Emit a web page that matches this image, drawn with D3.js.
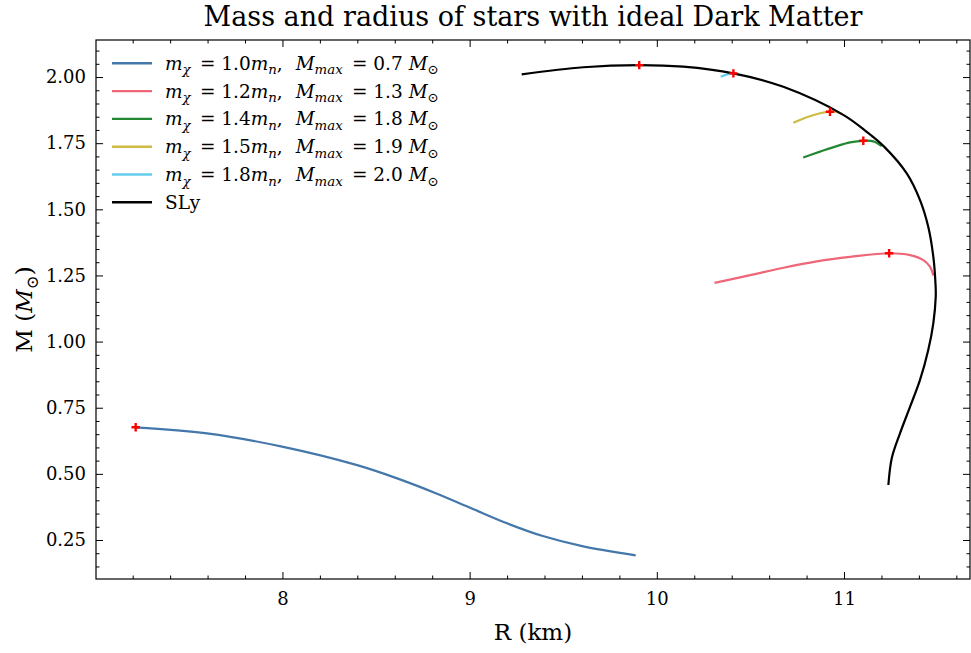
<!DOCTYPE html>
<html>
<head>
<meta charset="utf-8">
<script src="https://cdn.jsdelivr.net/npm/d3@7/dist/d3.min.js"></script>
<style>
  html, body { margin: 0; padding: 0; background: #fff; }
  svg { display: block; }
  text { font-family: "DejaVu Serif", "Liberation Serif", serif; fill: #000; white-space: pre; }
</style>
</head>
<body>
<svg id="chart" width="971" height="653"></svg>
<script>
// ---------------- data ----------------
const darkMassLabels = ["1.0", "1.2", "1.4", "1.5", "1.8"];
const maxMassLabels  = ["0.7", "1.3", "1.8", "1.9", "2.0"];
const seriesColors   = ["#4477AA", "#EE6677", "#228833", "#CCBB44", "#66CCEE"];

// [R (km), M (Msun)]
const dm10 = [[7.216,0.676],[7.597,0.653],[7.998,0.603],[8.399,0.533],[8.609,0.484],[8.819,0.427],
              [9.009,0.370],[9.200,0.313],[9.391,0.265],[9.601,0.227],[9.887,0.192]];
const dm12 = [[10.308,1.222],[10.499,1.251],[10.677,1.279],[10.855,1.303],[11.033,1.320],[11.241,1.334],
              [11.353,1.327],[11.424,1.308],[11.459,1.283],[11.477,1.250]];
const dm14 = [[10.782,1.696],[10.872,1.718],[10.961,1.739],[11.032,1.753],[11.103,1.759],[11.157,1.757],[11.202,1.739]];
const dm15 = [[10.729,1.827],[10.801,1.848],[10.872,1.863],[10.925,1.869],[10.961,1.868],[10.988,1.860]];
const dm18 = [[10.341,2.001],[10.375,2.010],[10.409,2.016]];
const sly  = [[11.237,0.458],[11.255,0.559],[11.299,0.653],[11.353,0.754],[11.406,0.855],[11.450,0.968],
              [11.477,1.069],[11.490,1.170],[11.489,1.214],[11.477,1.321],[11.450,1.434],[11.406,1.535],
              [11.335,1.636],[11.214,1.737],[11.121,1.793],[10.996,1.857],[10.676,1.963],[10.409,2.014],
              [10.141,2.039],[9.906,2.045],[9.607,2.037],[9.278,2.010]];
const dmSeries = [dm10, dm12, dm14, dm15, dm18];

// maximum-mass markers
const maxPoints = [[7.216,0.676],[11.241,1.334],[11.103,1.759],[10.925,1.869],[10.409,2.014],[9.906,2.045]];

const xTicks = [8, 9, 10, 11];
const yTicks = [0.25, 0.50, 0.75, 1.00, 1.25, 1.50, 1.75, 2.00];

// ---------------- layout ----------------
const svg = d3.select("#chart");
const mLeft = 96, mRight = 970, mTop = 40, mBottom = 579;

const x = d3.scaleLinear().domain([7.004, 11.673]).range([mLeft, mRight]);
const y = d3.scaleLinear().domain([0.1026, 2.140]).range([mBottom, mTop]);

const xMinor = d3.range(7.2, 11.67, 0.2).filter(v => Math.abs(v - Math.round(v)) > 1e-6);
const yMinor = d3.range(0.15, 2.14, 0.05).filter(v => Math.abs(v*4 - Math.round(v*4)) > 1e-6);

const tickFont = 18;
function styleAxis(g) {
  g.select(".domain").remove();
  g.selectAll(".tick line").attr("stroke", "#000").attr("stroke-width", 1);
  g.selectAll("text").attr("font-size", tickFont).attr("font-family", '"DejaVu Serif", serif').attr("fill", "#000");
}

// bottom
svg.append("g").attr("transform", `translate(0,${mBottom})`)
  .call(d3.axisBottom(x).tickValues(xTicks).tickFormat(d3.format("d")).tickSizeInner(-7).tickSizeOuter(0).tickPadding(13))
  .call(styleAxis);
svg.append("g").attr("transform", `translate(0,${mBottom})`)
  .call(d3.axisBottom(x).tickValues(xMinor).tickFormat("").tickSizeInner(-3.5).tickSizeOuter(0))
  .call(styleAxis);
// top
svg.append("g").attr("transform", `translate(0,${mTop})`)
  .call(d3.axisTop(x).tickValues(xTicks).tickFormat("").tickSizeInner(-7).tickSizeOuter(0))
  .call(styleAxis);
svg.append("g").attr("transform", `translate(0,${mTop})`)
  .call(d3.axisTop(x).tickValues(xMinor).tickFormat("").tickSizeInner(-3.5).tickSizeOuter(0))
  .call(styleAxis);
// left
svg.append("g").attr("transform", `translate(${mLeft},0)`)
  .call(d3.axisLeft(y).tickValues(yTicks).tickFormat(d3.format(".2f")).tickSizeInner(-7).tickSizeOuter(0).tickPadding(10))
  .call(styleAxis);
svg.append("g").attr("transform", `translate(${mLeft},0)`)
  .call(d3.axisLeft(y).tickValues(yMinor).tickFormat("").tickSizeInner(-3.5).tickSizeOuter(0))
  .call(styleAxis);
// right
svg.append("g").attr("transform", `translate(${mRight},0)`)
  .call(d3.axisRight(y).tickValues(yTicks).tickFormat("").tickSizeInner(-7).tickSizeOuter(0))
  .call(styleAxis);
svg.append("g").attr("transform", `translate(${mRight},0)`)
  .call(d3.axisRight(y).tickValues(yMinor).tickFormat("").tickSizeInner(-3.5).tickSizeOuter(0))
  .call(styleAxis);

// frame
svg.append("rect").attr("x", mLeft).attr("y", mTop).attr("width", mRight - mLeft).attr("height", mBottom - mTop)
  .attr("fill", "none").attr("stroke", "#000").attr("stroke-width", 1.2);

// ---------------- curves ----------------
const line = d3.line().x(d => x(d[0])).y(d => y(d[1])).curve(d3.curveCatmullRom.alpha(0.5));
const plot = svg.append("g");
dmSeries.forEach((s, i) => {
  plot.append("path").attr("d", line(s)).attr("fill", "none")
    .attr("stroke", seriesColors[i]).attr("stroke-width", 2.2).attr("stroke-linejoin", "round");
});
plot.append("path").attr("d", line(sly)).attr("fill", "none")
  .attr("stroke", "#000").attr("stroke-width", 2.2).attr("stroke-linejoin", "round");

// markers
const mk = svg.append("g");
maxPoints.forEach(p => {
  const cx = x(p[0]), cy = y(p[1]), h = 4.2;
  mk.append("path")
    .attr("d", `M${cx - h},${cy}H${cx + h}M${cx},${cy - h}V${cy + h}`)
    .attr("stroke", "#ff0000").attr("stroke-width", 2.4).attr("fill", "none");
});

// ---------------- text ----------------
function mathText(sel, parts, fs) {
  let shift = 0;
  parts.forEach(([t, kind]) => {
    const sub = kind === "sub" || kind === "isub";
    const target = sub ? fs * 0.25 : 0;
    sel.append("tspan").text(t)
      .attr("dy", target - shift)
      .attr("font-style", (kind === "i" || kind === "isub") ? "italic" : "normal")
      .attr("font-size", sub ? fs * 0.72 : fs);
    shift = target;
  });
}

// title
svg.append("text").attr("x", (mLeft + mRight) / 2).attr("y", 26).attr("text-anchor", "middle")
  .attr("font-size", 27).text("Mass and radius of stars with ideal Dark Matter");

// x label
svg.append("text").attr("x", (mLeft + mRight) / 2).attr("y", 640).attr("text-anchor", "middle")
  .attr("font-size", 23).text("R (km)");

// y label
const yl = svg.append("text").attr("transform", `translate(32,${(mTop + mBottom) / 2}) rotate(-90)`)
  .attr("text-anchor", "middle").attr("font-size", 23);
mathText(yl, [["M (", "n"], ["M", "i"], ["⊙", "sub"], [")", "n"]], 23);

// legend
const legFs = 18.5;
const leg = svg.append("g");
const legendEntries = darkMassLabels.map((m, i) => ({ color: seriesColors[i], parts: [
  ["m", "i"], ["χ", "isub"], ["\u2002= ", "n"], [m, "n"], ["m", "i"], ["n", "isub"], [",\u2002\u2009", "n"],
  ["M", "i"], ["max", "isub"], ["\u2002= ", "n"], [maxMassLabels[i] + " ", "n"], ["M", "i"], ["⊙", "sub"]
]}));
legendEntries.push({ color: "#000", parts: [["SLy", "n"]] });
legendEntries.forEach((e, i) => {
  const ry = 63.3 + i * 27.8;
  leg.append("line").attr("x1", 112).attr("x2", 152).attr("y1", ry).attr("y2", ry)
    .attr("stroke", e.color).attr("stroke-width", 2.4);
  const t = leg.append("text").attr("x", 165).attr("y", ry + 6.5).attr("font-size", legFs);
  mathText(t, e.parts, legFs);
});
</script>
</body>
</html>
